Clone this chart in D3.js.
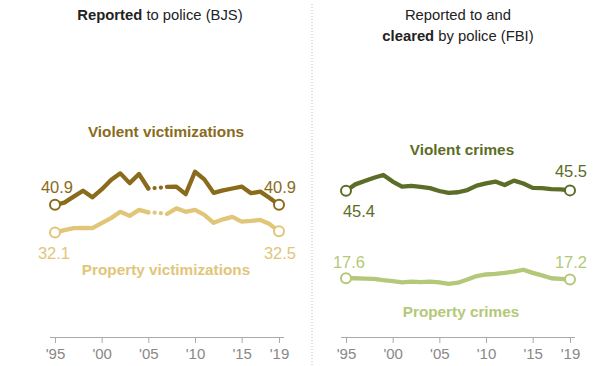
<!DOCTYPE html>
<html><head><meta charset="utf-8">
<script src="https://cdn.jsdelivr.net/npm/d3@7"></script>
<style>
body{margin:0;background:#fff;}
text{font-family:"Liberation Sans",Arial,sans-serif;}
</style></head>
<body><svg id="c" width="595" height="366"></svg>
<script>
const years = d3.range(1995, 2020);
const tickYears = [1995, 2000, 2005, 2010, 2015, 2019];
const tickLabels = ["'95", "'00", "'05", "'10", "'15", "'19"];
const bjsViolent = [40.9,41.6,43.5,45.4,43.3,45.8,48.8,50.9,47.8,50.7,46.1,46.3,46.6,46.7,44.3,51.4,49.0,44.7,45.5,46.1,46.7,44.6,45.1,43.1,40.9];
const bjsProperty = [32.1,32.9,33.5,33.6,33.5,35.1,36.7,38.7,37.4,39.3,38.5,38.4,38.0,39.8,38.7,39.3,37.7,35.2,36.3,37.1,35.6,35.8,36.1,34.8,32.5];
const fbiViolent = [45.4,47.4,48.5,49.5,50.4,48.3,46.7,46.9,46.6,46.2,45.3,44.7,44.9,45.6,47.0,47.7,48.3,47.2,48.6,47.7,46.3,46.2,45.9,45.8,45.5];
const fbiProperty = [17.6,17.6,17.5,17.4,17.0,16.7,16.3,16.5,16.4,16.5,16.3,15.8,16.2,17.2,18.3,18.8,19.0,19.3,19.7,20.3,19.3,18.5,17.6,17.4,17.2];
const breakYear = 2006;

const C = {bjsV:"#8a6b1c", bjsP:"#e1c67a", fbiV:"#5b6d26", fbiP:"#b3c878"};

const svg = d3.select("#c");
const y = d3.scaleLinear().domain([0,60]).range([333.7,144.7]);
const xL = d3.scaleLinear().domain([1995,2019]).range([55,279]);
const xR = d3.scaleLinear().domain([1995,2019]).range([346,570]);

// divider
svg.append("line").attr("x1",312).attr("x2",312).attr("y1",4).attr("y2",366)
  .attr("stroke","#bbb").attr("stroke-width",1).attr("stroke-dasharray","1,2");

// titles
const TS = 14.8;
const t1 = svg.append("text").attr("x",160).attr("y",20).attr("text-anchor","middle").attr("font-size",TS).attr("fill","#222");
t1.append("tspan").attr("font-weight","bold").text("Reported");
t1.append("tspan").text(" to police (BJS)");
svg.append("text").attr("x",458).attr("y",20).attr("text-anchor","middle").attr("font-size",TS).attr("fill","#222").text("Reported to and");
const t2 = svg.append("text").attr("x",458).attr("y",41).attr("text-anchor","middle").attr("font-size",TS).attr("fill","#222");
t2.append("tspan").attr("font-weight","bold").text("cleared");
t2.append("tspan").text(" by police (FBI)");

function axis(x){
  const g = svg.append("g").attr("transform","translate(0,337)");
  g.call(d3.axisBottom(x).tickValues(tickYears).tickFormat((d,i)=>tickLabels[i]).tickSize(6).tickSizeOuter(0).tickPadding(5));
  g.select(".domain").attr("stroke","#aaa").attr("d",`M${x.range()[0]-5},0.5H${x.range()[1]+5}`);
  g.selectAll(".tick line").attr("stroke","#aaa");
  g.selectAll(".tick text").attr("fill","#888").attr("font-size",15).attr("font-family","Liberation Sans, Arial, sans-serif");
}
axis(xL); axis(xR);

function series(x, vals, color, brk){
  const pts = years.map((yr,i)=>({yr, v:vals[i]}));
  const line = d3.line().x(d=>x(d.yr)).y(d=>y(d.v));
  const segs = brk ? [pts.filter(d=>d.yr<=brk-1), pts.filter(d=>d.yr>=brk+1)] : [pts];
  segs.forEach(s=>svg.append("path").attr("d",line(s)).attr("fill","none").attr("stroke",color)
    .attr("stroke-width",4.3).attr("stroke-linejoin","round").attr("stroke-linecap","round"));
  if (brk){
    svg.append("path").attr("d",line(pts.filter(d=>d.yr>=brk-1&&d.yr<=brk+1))).attr("fill","none")
      .attr("stroke",color).attr("stroke-width",4.3).attr("stroke-linecap","round").attr("stroke-dasharray","0 6.3");
  }
  [pts[0], pts[pts.length-1]].forEach(d=>svg.append("circle").attr("cx",x(d.yr)).attr("cy",y(d.v)).attr("r",5)
    .attr("fill","#fff").attr("stroke",color).attr("stroke-width",2));
}
series(xL, bjsViolent, C.bjsV, breakYear);
series(xL, bjsProperty, C.bjsP, breakYear);
series(xR, fbiViolent, C.fbiV, null);
series(xR, fbiProperty, C.fbiP, null);

function lbl(xp, yp, txt, color, opts={}){
  svg.append("text").attr("x",xp).attr("y",yp).attr("text-anchor",opts.anchor||"middle")
    .attr("font-size",opts.size||16.5).attr("font-weight",opts.bold?"bold":"normal").attr("fill",color).text(txt);
}
const f = d3.format(".1f");
// value labels
lbl(xL(1995)+2, y(bjsViolent[0])-12, f(bjsViolent[0]), C.bjsV);
lbl(xL(2019)+1, y(bjsViolent[24])-12, f(bjsViolent[24]), C.bjsV);
lbl(xL(1995)-1, y(bjsProperty[0])+26, f(bjsProperty[0]), C.bjsP);
lbl(xL(2019)+1, y(bjsProperty[24])+28, f(bjsProperty[24]), C.bjsP);
lbl(xR(1995)+13, y(fbiViolent[0])+26, f(fbiViolent[0]), C.fbiV);
lbl(xR(2019)+1, y(fbiViolent[24])-13, f(fbiViolent[24]), C.fbiV);
lbl(xR(1995)+3, y(fbiProperty[0])-10, f(fbiProperty[0]), C.fbiP);
lbl(xR(2019)+1, y(fbiProperty[24])-12, f(fbiProperty[24]), C.fbiP);
// series labels
const SS = 15.3;
lbl(166, 137, "Violent victimizations", C.bjsV, {bold:true, size:SS});
lbl(166, 275, "Property victimizations", C.bjsP, {bold:true, size:SS});
lbl(462, 155, "Violent crimes", C.fbiV, {bold:true, size:SS});
lbl(461, 317, "Property crimes", C.fbiP, {bold:true, size:SS});
</script></body></html>
